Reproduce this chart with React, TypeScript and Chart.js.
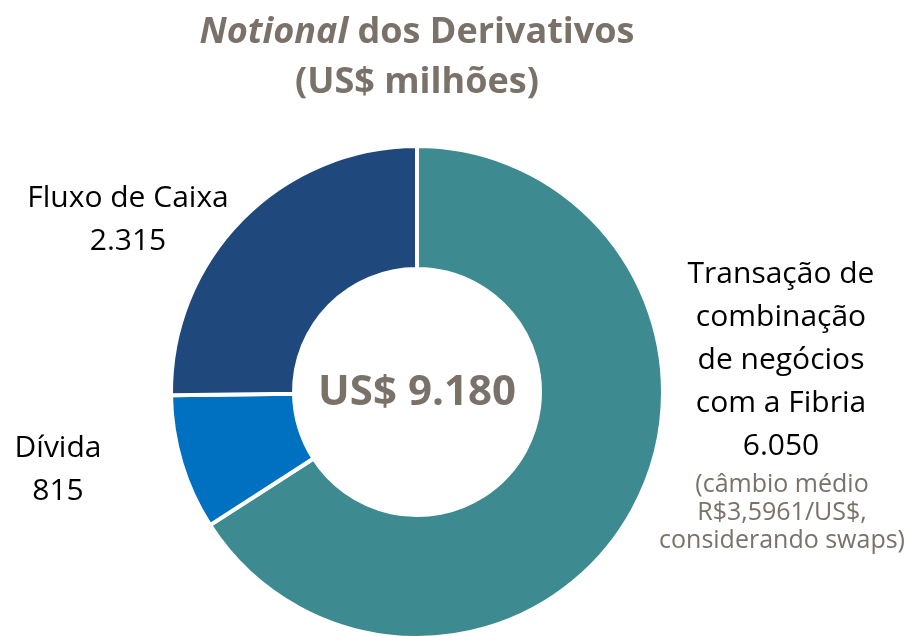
import React, { useEffect, useRef } from "react";
import { Chart, registerables } from "chart.js";

Chart.register(...registerables);

const categories = ["Transação de combinação de negócios com a Fibria", "Dívida", "Fluxo de Caixa"];
const values = [6050, 815, 2315];
const colors = ["#3d8b91", "#0070c0", "#1f497d"];
const totalLabel = "US$ 9.180";
const titleItalic = "Notional";
const titleRest = " dos Derivativos";
const titleLine2 = "(US$ milhões)";
const labelFluxo = ["Fluxo de Caixa", "2.315"];
const labelDivida = ["Dívida", "815"];
const labelFibria = ["Transação de", "combinação", "de negócios", "com a Fibria", "6.050"];
const noteFibria = ["(câmbio médio", "R$3,5961/US$,", "considerando swaps)"];

const FONT = "'Open Sans', 'Noto Sans', sans-serif";
const GRAY = "#7a7168";

const textPlugin = {
  id: "textPlugin",
  afterDraw(chart: any) {
    const ctx = chart.ctx as CanvasRenderingContext2D;
    ctx.save();
    // Title
    ctx.fillStyle = GRAY;
    ctx.textBaseline = "alphabetic";
    const tf = 36;
    ctx.font = `italic bold ${tf}px ${FONT}`;
    const w1 = ctx.measureText(titleItalic).width;
    ctx.font = `bold ${tf}px ${FONT}`;
    const w2 = ctx.measureText(titleRest).width;
    const cx = 417;
    let x0 = cx - (w1 + w2) / 2;
    ctx.textAlign = "left";
    ctx.font = `italic bold ${tf}px ${FONT}`;
    ctx.fillText(titleItalic, x0, 43);
    ctx.font = `bold ${tf}px ${FONT}`;
    ctx.fillText(titleRest, x0 + w1, 43);
    ctx.textAlign = "center";
    ctx.fillText(titleLine2, cx, 93);

    // Center total
    const arc = chart.getDatasetMeta(0).data[0];
    ctx.font = `bold 42px ${FONT}`;
    ctx.fillText(totalLabel, arc.x, 405);

    // Labels
    ctx.fillStyle = "#000000";
    ctx.font = `30px ${FONT}`;
    labelFluxo.forEach((t, i) => ctx.fillText(t, 128, 207 + i * 43));
    labelDivida.forEach((t, i) => ctx.fillText(t, 58, 457 + i * 43));
    labelFibria.forEach((t, i) => ctx.fillText(t, 781, 283 + i * 43));
    ctx.fillStyle = GRAY;
    ctx.font = `25px ${FONT}`;
    noteFibria.forEach((t, i) => ctx.fillText(t, 782, 492 + i * 28));
    ctx.restore();
  },
};

export default function App() {
  const ref = useRef<HTMLCanvasElement | null>(null);
  useEffect(() => {
    if (!ref.current) return;
    const chart = new Chart(ref.current, {
      type: "doughnut",
      data: {
        labels: categories,
        datasets: [
          {
            data: values,
            backgroundColor: colors,
            borderColor: "#ffffff",
            borderWidth: 4,
            hoverOffset: 0,
          },
        ],
      },
      options: {
        responsive: false,
        animation: false,
        cutout: "50%",
        layout: { padding: { left: 169, right: 242, top: 144, bottom: 0 } },
        plugins: {
          legend: { display: false },
          tooltip: { enabled: false },
          title: { display: false },
        },
      },
      plugins: [textPlugin],
    });
    return () => chart.destroy();
  }, []);
  return (
    <div style={{ position: "fixed", left: 0, top: 0, width: 907, height: 636, overflow: "hidden", background: "#ffffff" }}>
      <canvas ref={ref} width={907} height={640} style={{ display: "block" }} />
    </div>
  );
}
